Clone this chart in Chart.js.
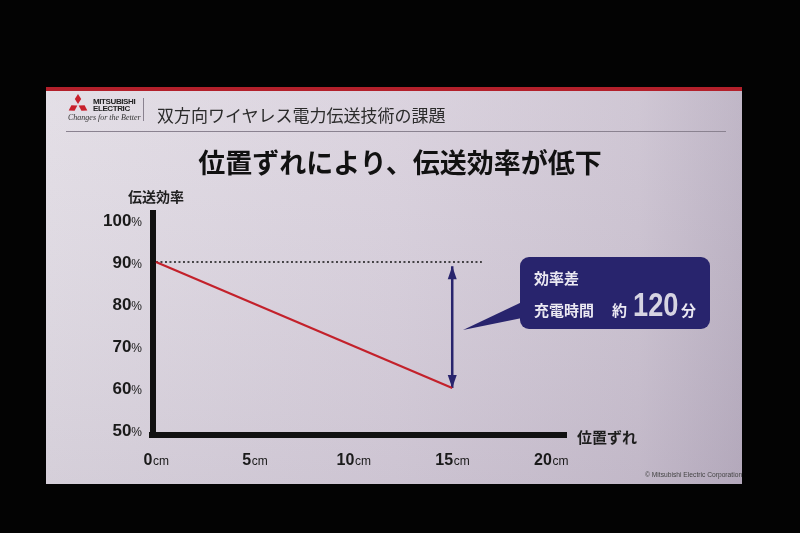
<!DOCTYPE html>
<html><head><meta charset="utf-8">
<script src="https://cdn.jsdelivr.net/npm/chart.js@4"></script>
<style>
html,body{margin:0;padding:0;background:#000;width:800px;height:533px;overflow:hidden}
#wrap{position:relative;width:800px;height:533px}
canvas{position:absolute;left:0;top:0}
.t{position:absolute;white-space:nowrap;font-family:"Noto Sans CJK JP","Noto Sans",sans-serif;line-height:1}
</style></head><body>
<div id="wrap">
<canvas id="c" width="800" height="533"></canvas>
<div class="t" style="left:157px;top:106px;font-size:17px;color:#2b2b2b">双方向ワイヤレス電力伝送技術の課題</div>
<div class="t" style="left:0;width:800px;text-align:center;top:148px;font-size:27px;font-weight:700;color:#111">位置ずれにより、伝送効率が低下</div>
<div class="t" style="left:93px;top:98px;font-family:'Liberation Sans',sans-serif;font-size:8px;font-weight:700;color:#222;letter-spacing:-0.4px">MITSUBISHI</div>
<div class="t" style="left:93px;top:105px;font-family:'Liberation Sans',sans-serif;font-size:8px;font-weight:700;color:#222;letter-spacing:-0.4px">ELECTRIC</div>
<div class="t" style="left:68px;top:114px;font-family:'Liberation Serif',serif;font-size:8px;font-style:italic;color:#333">Changes for the Better</div>
<div class="t" style="left:645px;top:472px;font-family:'Liberation Sans',sans-serif;font-size:6.7px;color:#444">© Mitsubishi Electric Corporation</div>
</div>
<script>
// ---- data ----
const positions = [0, 15];            // 位置ずれ (cm)
const efficiency = [90, 60];          // 伝送効率 (%)
const refPositions = [0, 16.5];       // 90% reference line
const refEfficiency = [90, 90];
const arrowPositions = [15, 15];
const arrowEfficiency = [89, 60];
const xTicks = [0, 5, 10, 15, 20];
const xTickLabels = ['0', '5', '10', '15', '20'];
const yTicks = [50, 60, 70, 80, 90, 100];
const yTickLabels = ['50', '60', '70', '80', '90', '100'];
const xUnit = 'cm', yUnit = '%';
const yTitle = '伝送効率', xTitle = '位置ずれ';
const calloutLine1 = '効率差';
const calloutLine2a = '充電時間', calloutLine2b = '約', calloutValue = '120', calloutUnit = '分';

const pts = (xs, ys) => xs.map((x, i) => ({x, y: ys[i]}));
const NAVY = '#28246d';
const JP = '"Noto Sans CJK JP", sans-serif';
const NUM = '"Liberation Sans", Arial, sans-serif';

const slidePlugin = {
  id: 'slide',
  beforeDraw(chart) {
    const ctx = chart.ctx;
    ctx.save();
    ctx.fillStyle = '#030303';
    ctx.fillRect(0, 0, 800, 533);
    const g = ctx.createLinearGradient(46, 0, 742, 0);
    g.addColorStop(0, '#e2dde5');
    g.addColorStop(0.5, '#d9d1dd');
    g.addColorStop(0.85, '#cdc4d2');
    g.addColorStop(1, '#bdb3c4');
    ctx.fillStyle = g;
    ctx.fillRect(46, 90, 696, 394);
    const v = ctx.createLinearGradient(0, 90, 0, 484);
    v.addColorStop(0, 'rgba(255,255,255,0.05)');
    v.addColorStop(1, 'rgba(60,40,80,0.08)');
    ctx.fillStyle = v;
    ctx.fillRect(46, 90, 696, 394);
    ctx.fillStyle = '#b3202b';
    ctx.fillRect(46, 87, 696, 4);
    // header separator
    ctx.strokeStyle = '#8a8290';
    ctx.lineWidth = 1;
    ctx.beginPath(); ctx.moveTo(66, 131.5); ctx.lineTo(726, 131.5); ctx.stroke();
    ctx.beginPath(); ctx.moveTo(143.5, 98); ctx.lineTo(143.5, 121); ctx.stroke();
    // logo diamonds
    ctx.fillStyle = '#c8202c';
    const dia = (cx, cy) => { ctx.beginPath(); ctx.moveTo(cx, cy - 5); ctx.lineTo(cx + 3.2, cy); ctx.lineTo(cx, cy + 5); ctx.lineTo(cx - 3.2, cy); ctx.closePath(); ctx.fill(); };
    dia(78, 99);
    ctx.save(); ctx.translate(73, 108); ctx.rotate(Math.PI / 3); ctx.translate(-73, -108); dia(73, 108); ctx.restore();
    ctx.save(); ctx.translate(83, 108); ctx.rotate(-Math.PI / 3); ctx.translate(-83, -108); dia(83, 108); ctx.restore();
    ctx.restore();
  },
  afterDraw(chart) {
    const ctx = chart.ctx;
    const xs = chart.scales.x, ys = chart.scales.y;
    const ca = chart.chartArea;
    ctx.save();
    // corner fill
    ctx.fillStyle = '#111';
    ctx.fillRect(ca.left - 4, ca.bottom - 3, 7, 6);
    // y tick labels
    ctx.textBaseline = 'alphabetic';
    yTicks.forEach((v, i) => {
      const y = ys.getPixelForValue(v) + 6;
      ctx.font = '12px ' + NUM;
      const uw = ctx.measureText(yUnit).width;
      ctx.fillStyle = '#1a1a1a';
      ctx.textAlign = 'right';
      ctx.fillText(yUnit, 142, y);
      ctx.font = 'bold 17px ' + NUM;
      ctx.fillText(yTickLabels[i], 142 - uw, y);
    });
    // x tick labels
    xTicks.forEach((v, i) => {
      const cx = xs.getPixelForValue(v);
      ctx.font = 'bold 16px ' + NUM;
      const nw = ctx.measureText(xTickLabels[i]).width;
      ctx.font = '12px ' + NUM;
      const uw = ctx.measureText(xUnit).width;
      const left = cx - (nw + uw) / 2;
      ctx.textAlign = 'left';
      ctx.fillStyle = '#1a1a1a';
      ctx.font = 'bold 16px ' + NUM;
      ctx.fillText(xTickLabels[i], left, 465);
      ctx.font = '12px ' + NUM;
      ctx.fillText(xUnit, left + nw + 0.5, 465);
    });
    // axis titles
    ctx.font = 'bold 14px ' + JP;
    ctx.textAlign = 'left';
    ctx.textBaseline = 'middle';
    ctx.fillStyle = '#1e1e1e';
    ctx.fillText(yTitle, 128, 197);
    ctx.font = 'bold 15px ' + JP;
    ctx.fillText(xTitle, 577, 437);
    // arrowheads
    const meta = chart.getDatasetMeta(2);
    const p0 = meta.data[0], p1 = meta.data[1];
    ctx.fillStyle = NAVY;
    const head = (x, y, dir) => {
      ctx.beginPath(); ctx.moveTo(x, y); ctx.lineTo(x - 4.5, y + dir * 13); ctx.lineTo(x + 4.5, y + dir * 13); ctx.closePath(); ctx.fill();
    };
    head(p0.x, p0.y, 1);
    head(p1.x, p1.y, -1);
    // callout
    ctx.fillStyle = NAVY;
    ctx.beginPath();
    ctx.roundRect(520, 257, 190, 72, 9);
    ctx.fill();
    ctx.beginPath();
    ctx.moveTo(522, 302); ctx.lineTo(463, 330); ctx.lineTo(522, 318); ctx.closePath(); ctx.fill();
    ctx.fillStyle = '#ebe9f2';
    ctx.textBaseline = 'alphabetic';
    ctx.font = 'bold 15px ' + JP;
    ctx.fillText(calloutLine1, 534, 284);
    ctx.fillText(calloutLine2a, 534, 316);
    ctx.fillText(calloutLine2b, 612, 316);
    ctx.save();
    ctx.translate(633, 316);
    ctx.scale(0.8, 1);
    ctx.font = 'bold 34px ' + NUM;
    ctx.fillStyle = '#d6d4e2';
    ctx.fillText(calloutValue, 0, 0);
    ctx.restore();
    ctx.font = 'bold 15px ' + JP;
    ctx.fillText(calloutUnit, 681, 316);
    ctx.restore();
  }
};

new Chart(document.getElementById('c'), {
  type: 'scatter',
  data: {
    datasets: [
      { data: pts(positions, efficiency), showLine: true, borderColor: '#c3212b', borderWidth: 2.2, pointRadius: 0 },
      { data: pts(refPositions, refEfficiency), showLine: true, borderColor: '#151515', borderWidth: 1.6, borderDash: [2, 2.5], pointRadius: 0 },
      { data: pts(arrowPositions, arrowEfficiency), showLine: true, borderColor: NAVY, borderWidth: 2.5, pointRadius: 0 }
    ]
  },
  options: {
    responsive: false,
    animation: false,
    layout: { padding: { left: 153, top: 213, right: 234, bottom: 98 } },
    plugins: { legend: { display: false }, tooltip: { enabled: false } },
    scales: {
      x: {
        type: 'linear', min: -0.15, max: 20.76,
        grid: { display: false },
        ticks: { display: false },
        border: { display: true, color: '#111', width: 6 },
        afterFit(s) { s.height = 0; }
      },
      y: {
        type: 'linear', min: 48.8, max: 101.67,
        grid: { display: false },
        ticks: { display: false },
        border: { display: true, color: '#111', width: 6 },
        afterFit(s) { s.width = 0; }
      }
    }
  },
  plugins: [slidePlugin]
});
</script>
</body></html>
